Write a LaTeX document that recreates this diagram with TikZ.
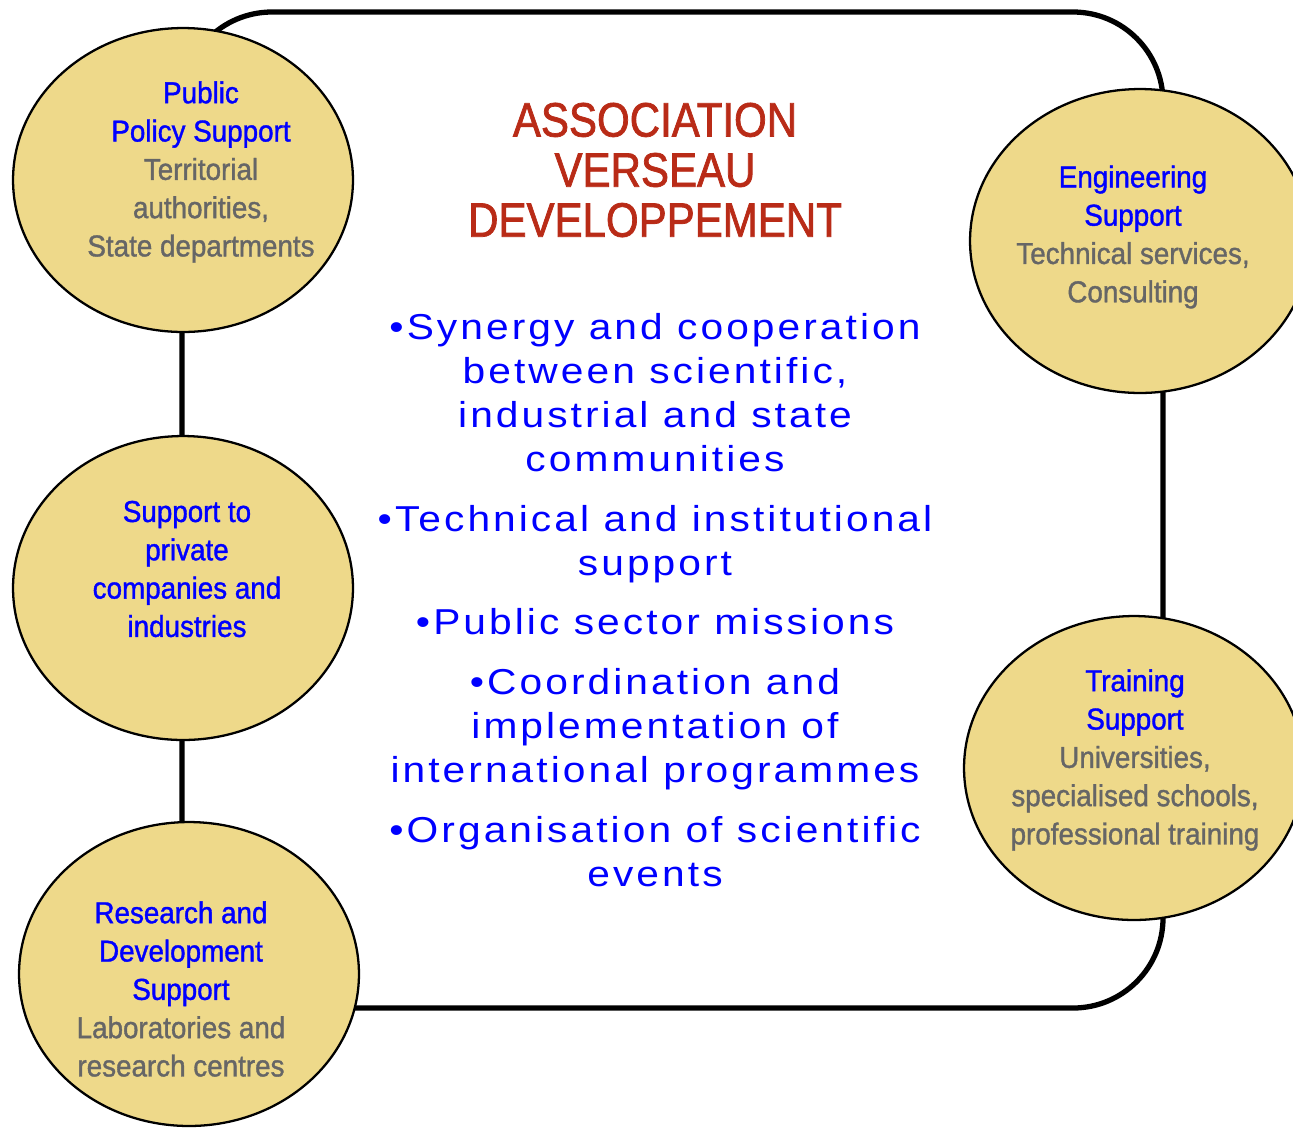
\documentclass[tikz,border=0pt]{standalone}
\usepackage{xcolor}
\usepackage{fontspec}
\setmainfont{Liberation Sans}
\newfontfamily\ballfont[FakeStretch=0.92,FakeBold=1.2]{Liberation Sans}
\newfontfamily\aimfont[FakeStretch=1.13,LetterSpace=8.5]{Liberation Sans}
\newfontfamily\headfont[FakeStretch=0.87,FakeBold=1.5]{Liberation Sans}
\usetikzlibrary{shapes.geometric}

\definecolor{ballfill}{RGB}{238,217,138}
\definecolor{headblue}{RGB}{0,0,255}
\definecolor{subgray}{RGB}{102,102,102}
\definecolor{titlered}{RGB}{185,43,23}
\newcommand{\balltitle}[1]{\textcolor{headblue}{#1}}

\begin{document}
\begin{tikzpicture}[x=0.02cm, y=-0.02cm,
    ball/.style={draw, ellipse, fill=ballfill, line width=1.3pt, minimum width=6.8cm, minimum height=6.08cm, inner sep=0pt},
    balltext/.style={align=center, text=subgray, font=\ballfont\fontsize{17.2}{21.8}\selectfont},
    frame/.style={line width=3pt, rounded corners=1.8cm}]
\useasboundingbox (0,0) rectangle (1293,1127);

\coordinate (frame_nw) at (182,12);
\coordinate (frame_se) at (1163,1008);
\draw[frame] (frame_nw) rectangle (frame_se);

\node[align=center, text=titlered, font=\headfont\fontsize{27.5}{28.5}\selectfont] (title) at (655,170) {ASSOCIATION\\VERSEAU\\DEVELOPPEMENT};

\node[align=center, text=headblue, font=\aimfont\fontsize{20.5}{25}\selectfont] (aims) at (655,600)
    {•Synergy and cooperation\\between scientific,\\industrial and state\\communities\\[9pt]
     •Technical and institutional\\support\\[9pt]
     •Public sector missions\\[9pt]
     •Coordination and\\implementation of\\international programmes\\[9pt]
     •Organisation of scientific\\events};

\node[ball] (public) at (183,180) {};
\node[ball] (private) at (183,588) {};
\node[ball] (research) at (189,974) {};
\node[ball] (engineering) at (1140,241) {};
\node[ball] (training) at (1134,768) {};

\node[balltext] (public_txt) at (201,172) {\balltitle{Public}\\\balltitle{Policy Support}\\Territorial\\authorities,\\State departments};
\node[balltext] (private_txt) at (187,569) {\balltitle{Support to}\\\balltitle{private}\\\balltitle{companies and}\\\balltitle{industries}};
\node[balltext] (research_txt) at (181,989) {\balltitle{Research and}\\\balltitle{Development}\\\balltitle{Support}\\Laboratories and\\research centres};
\node[balltext] (engineering_txt) at (1133,237) {\balltitle{Engineering}\\\balltitle{Support}\\Technical services,\\Consulting};
\node[balltext] (training_txt) at (1135,760) {\balltitle{Training}\\\balltitle{Support}\\Universities,\\specialised schools,\\professional training};

\end{tikzpicture}
\end{document}
